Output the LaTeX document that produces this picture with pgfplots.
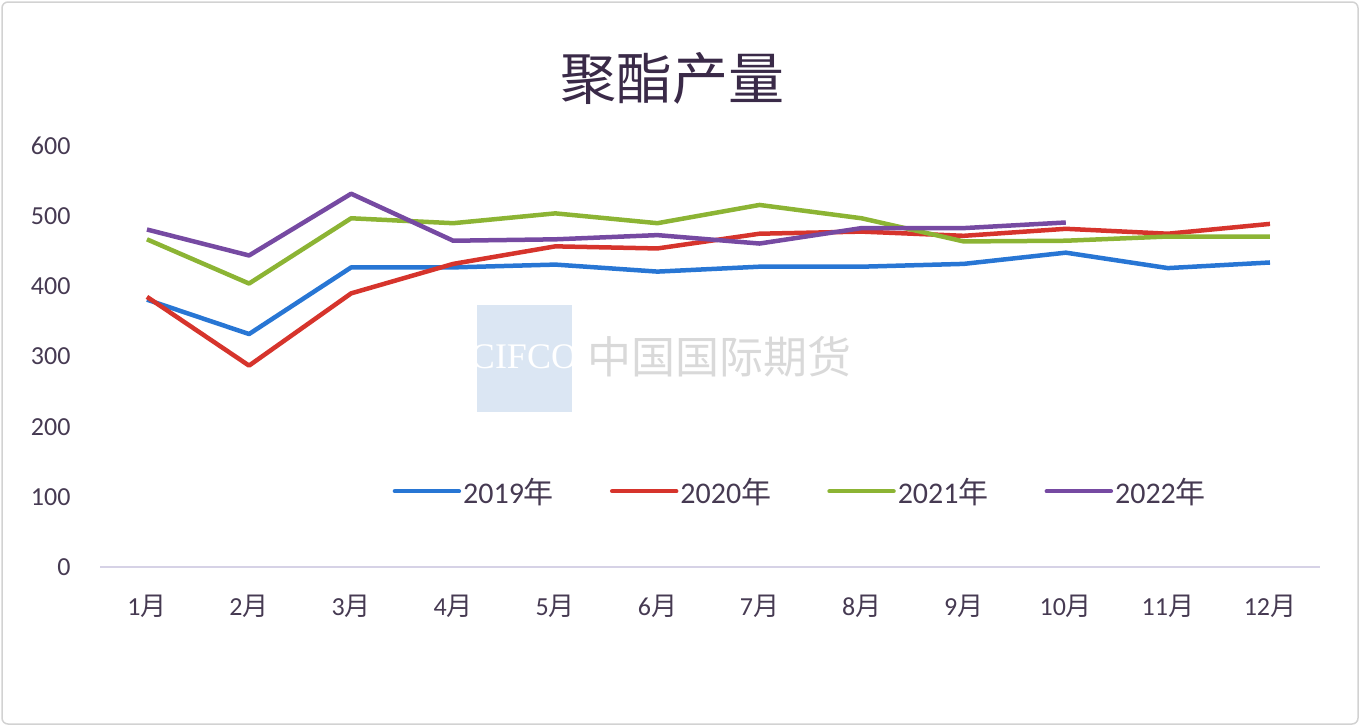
\documentclass[border=0pt]{standalone}
\usepackage{pgfplots}
\pgfplotsset{compat=1.18}
\usepackage{fontspec}
\setmainfont{Carlito}
\newfontfamily\cjk{Noto Sans CJK SC}
\newfontfamily\wmserif{Liberation Serif}
\newcommand\yue{{\cjk 月}}
\newcommand\nian{{\cjk 年}}
\definecolor{cblue}{RGB}{40,118,212}
\definecolor{cred}{RGB}{214,52,44}
\definecolor{cgreen}{RGB}{140,180,52}
\definecolor{cpurple}{RGB}{118,74,162}
\definecolor{ctext}{RGB}{70,58,82}
\definecolor{ctitle}{RGB}{58,42,72}
\definecolor{caxis}{RGB}{214,210,230}
\begin{document}
\begin{tikzpicture}[x=1pt,y=1pt]
\draw[use as bounding box,draw=none] (0,0) rectangle (1360,-726);
\draw[rounded corners=6pt,color=gray!35,line width=1.5pt] (2,-2) rectangle (1358,-724);
% watermark
\fill[color={rgb,255:red,219;green,230;blue,243}] (477,-305) rectangle (572,-412);
\node[text=white,font=\wmserif\fontsize{36}{36}\selectfont] at (524,-357) {CIFCO};
\node[anchor=west,text=gray!30,font=\cjk\fontsize{44}{44}\selectfont] at (584,-357) {中国国际期货};
\node[text=ctitle,font=\cjk\fontsize{56}{56}\selectfont] at (672,-78) {聚酯产量};
\begin{axis}[
  at={(100pt,-567pt)}, anchor=south west,
  scale only axis, width=1220pt, height=421pt,
  xmin=0.54, xmax=12.49, ymin=0, ymax=600,
  axis line style={draw=none},
  xtick={1,...,12},
  xticklabels={1\yue,2\yue,3\yue,4\yue,5\yue,6\yue,7\yue,8\yue,9\yue,10\yue,11\yue,12\yue},
  ytick={0,100,...,600},
  tick style={draw=none},
  /pgf/number format/assume math mode=true,
  ticklabel style={text=ctext,font=\fontsize{26}{26}\selectfont},
  yticklabel style={anchor=east,xshift=-26pt},
  xticklabel style={anchor=north,yshift=-24pt},
  legend columns=4,
  legend style={draw=none,fill=none,at={(0.574,0.18)},anchor=center,
    font=\fontsize{30}{30}\selectfont,text=ctext,
    /tikz/every even column/.append style={column sep=54pt}},
  legend image code/.code={\draw[#1,line width=4.5pt,line cap=round] (-6pt,0pt) -- (58pt,0pt);},
  every axis plot/.append style={line width=4.5pt,line join=round},
  clip=false,
]
\draw[caxis,line width=1.5pt] (axis cs:0.54,0) -- (axis cs:12.49,0);
\addplot[cblue] table {
x y
1 381
2 332
3 427
4 427
5 431
6 421
7 428
8 428
9 432
10 448
11 426
12 434
};
\addlegendentry{2019\nian}
\addplot[cred] table {
x y
1 385
2 287
3 390
4 432
5 457
6 454
7 475
8 478
9 472
10 482
11 475
12 489
};
\addlegendentry{2020\nian}
\addplot[cgreen] table {
x y
1 467
2 404
3 497
4 490
5 504
6 490
7 516
8 497
9 464
10 465
11 471
12 471
};
\addlegendentry{2021\nian}
\addplot[cpurple] table {
x y
1 481
2 444
3 532
4 465
5 467
6 473
7 461
8 483
9 483
10 491
};
\addlegendentry{2022\nian}
\end{axis}
\end{tikzpicture}
\end{document}
